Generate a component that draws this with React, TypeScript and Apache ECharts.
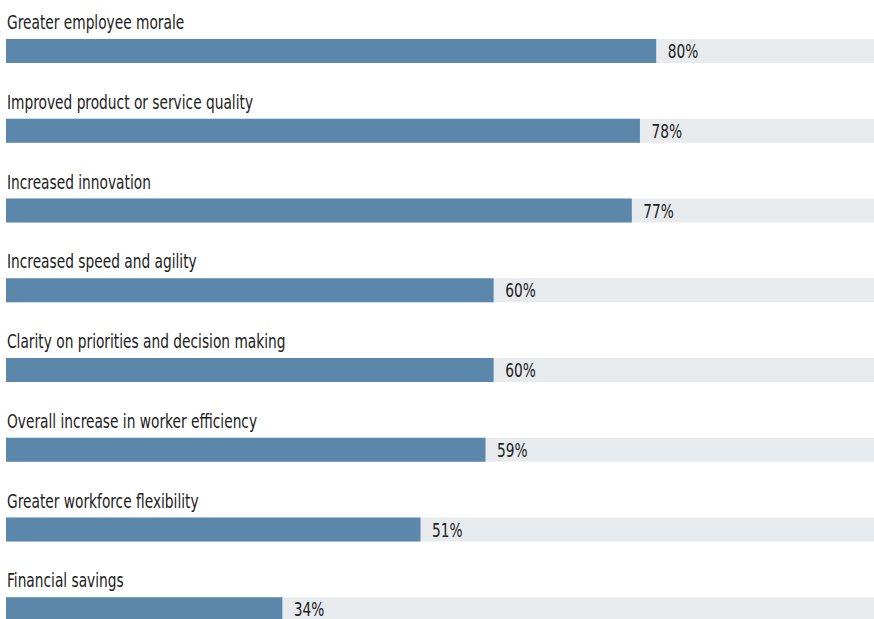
import React, { useEffect, useRef } from "react";
import * as echarts from "echarts";

const categories = [
  "Greater employee morale",
  "Improved product or service quality",
  "Increased innovation",
  "Increased speed and agility",
  "Clarity on priorities and decision making",
  "Overall increase in worker efficiency",
  "Greater workforce flexibility",
  "Financial savings",
];
const values = [80, 78, 77, 60, 60, 59, 51, 34];

const FONT = '"DejaVu Sans Condensed", "Liberation Sans Narrow", sans-serif';
const TEXT = "#222222";
const BAR = "#5b87ab";
const BG = "#e8ebee";
const SX = 0.765;

export default function App() {
  const ref = useRef<HTMLDivElement>(null);
  useEffect(() => {
    document.body.style.margin = "0";
    const chart = echarts.init(ref.current!, null, { renderer: "svg" });
    const data = values.map((v, i) => [v, i]);
    chart.setOption({
      animation: false,
      grid: { left: 6, right: 0, top: 11, height: 638, containLabel: false },
      xAxis: { type: "value", min: 0, max: 106.8, show: false },
      yAxis: {
        type: "category",
        data: categories,
        inverse: true,
        show: false,
      },
      series: [
        {
          type: "custom",
          clip: false,
          data,
          encode: { x: 0, y: 1 },
          renderItem: (params: any, api: any) => {
            const idx = api.value(1);
            const v = api.value(0);
            const start = api.coord([0, idx]);
            const end = api.coord([v, idx]);
            const cs = params.coordSys;
            const h = 24;
            const cy = start[1];
            return {
              type: "group",
              children: [
                {
                  type: "rect",
                  shape: { x: start[0], y: cy - h / 2, width: cs.x + cs.width - start[0], height: h },
                  style: { fill: BG },
                },
                {
                  type: "rect",
                  shape: { x: start[0], y: cy - h / 2, width: end[0] - start[0], height: h },
                  style: { fill: BAR },
                },
                {
                  type: "text",
                  x: end[0] + 11.5,
                  y: cy,
                  scaleX: SX,
                  style: {
                    text: v + "%",
                    x: 0,
                    y: 0,
                    fill: TEXT,
                    font: `20px ${FONT}`,
                    lineHeight: 16,
                    align: "left",
                    verticalAlign: "middle",
                  },
                },
                {
                  type: "text",
                  x: start[0] + 1,
                  y: cy - 29,
                  scaleX: SX,
                  style: {
                    text: categories[idx],
                    x: 0,
                    y: 0,
                    fill: TEXT,
                    font: `20px ${FONT}`,
                    align: "left",
                    verticalAlign: "middle",
                  },
                },
              ],
            };
          },
        },
      ],
    });
    return () => chart.dispose();
  }, []);
  return (
    <div style={{ width: 874, height: 619, overflow: "hidden" }}>
      <div ref={ref} style={{ width: 874, height: 660 }} />
    </div>
  );
}
